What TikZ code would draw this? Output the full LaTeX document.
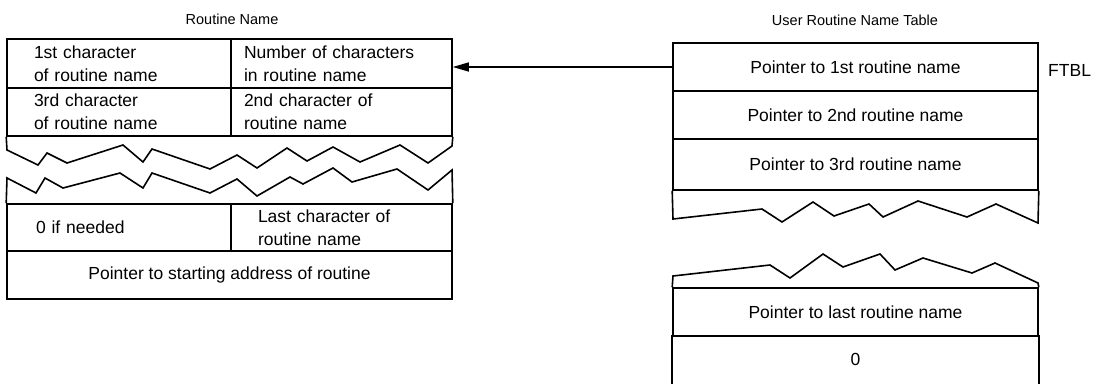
\documentclass[tikz,border=0pt]{standalone}
\usepackage{fontspec}
\setmainfont{Liberation Sans}
\usetikzlibrary{arrows.meta}
\begin{document}
\begin{tikzpicture}[x=1pt,y=-1pt,line join=miter,
  tbl/.style={line width=1.6pt},
  cell/.style={draw,line width=1.6pt,inner ysep=0pt,font=\fontsize{17.5}{23}\selectfont,align=left},
  ccell/.style={draw,line width=1.6pt,inner sep=0pt,font=\fontsize{17.5}{23}\selectfont,align=center,minimum width=#1},
  ttl/.style={inner sep=0pt,font=\fontsize{14.5}{17}\selectfont},
  lbl/.style={inner sep=0pt,font=\fontsize{17.5}{23}\selectfont}]
\useasboundingbox (0,0) rectangle (1100,383);
% titles
\node[ttl] (t1) at (232,19) {Routine Name};
\node[ttl] (t2) at (855,20) {User Routine Name Table};
% left table
\node[cell,text width=170pt,inner xsep=27pt,minimum height=49pt] (a1) at (119,63.5) {1st character\\of routine name};
\node[cell,text width=195pt,inner xsep=13pt,minimum height=49pt] (a2) at (341.5,63.5) {Number of characters\\in routine name};
\node[cell,text width=170pt,inner xsep=27pt,minimum height=48pt] (a3) at (119,112) {3rd character\\of routine name};
\node[cell,text width=195pt,inner xsep=13pt,minimum height=48pt] (a4) at (341.5,112) {2nd character of\\routine name};
\draw[tbl] (a3.south west) -- (7,150) -- (38,165) -- (47,153) -- (67,163) -- (123,145) -- (143,162) -- (152,149) -- (210,169) -- (237,155) -- (257,168) -- (287,148) -- (307,161) -- (333,147) -- (360,162) -- (400,145) -- (428,163) -- (452,146) -- (a4.south east);
\node[cell,text width=166pt,inner xsep=29pt,minimum height=47pt] (a5) at (119,227.5) {0 if needed};
\node[cell,text width=167pt,inner xsep=27pt,minimum height=47pt] (a6) at (341.5,227.5) {Last character of\\routine name};
\draw[tbl] (a5.north west) -- (7,178) -- (36,193) -- (45,178) -- (63,188) -- (120,173) -- (143,188) -- (152,173) -- (210,193) -- (237,179) -- (257,196) -- (290,177) -- (303,184) -- (333,168) -- (352,182) -- (397,169) -- (428,190) -- (452,170) -- (a6.north east);
\node[ccell=445pt,minimum height=48pt] (a7) at (229.5,275) {Pointer to starting address of routine};
% right table
\node[ccell=365pt,minimum height=48pt] (b1) at (855.5,67) {Pointer to 1st routine name};
\node[ccell=365pt,minimum height=48pt] (b2) at (855.5,115) {Pointer to 2nd routine name};
\node[ccell=365pt,minimum height=51pt] (b3) at (855.5,164.5) {Pointer to 3rd routine name};
\draw[tbl] (b3.south west) -- (673,219) -- (762,209) -- (782,222) -- (813,202) -- (834,216) -- (869,204) -- (883,217) -- (918,201) -- (967,217) -- (996,204) -- (1038,223) -- (b3.south east);
\node[ccell=365pt,minimum height=48pt] (b4) at (855.5,312) {Pointer to last routine name};
\draw[tbl] (b4.north west) -- (673,276) -- (770,265) -- (790,278) -- (823,254) -- (843,267) -- (880,254) -- (895,270) -- (923,258) -- (972,273) -- (995,263) -- (1038,283) -- (b4.north east);
\node[ccell=365pt,minimum height=47pt,draw=none] (b5) at (855.5,359.5) {0};
\draw[tbl] (b5.north west) -- (b5.south west);
\draw[tbl] (b5.north east) -- (b5.south east);
\node[lbl,anchor=west] (ftbl) at (1048,70) {FTBL};
% pointer arrow
\draw[tbl,-{Triangle[length=16pt,width=9pt]}] (b1.west) -- (b1.west -| a2.east);
\end{tikzpicture}
\end{document}
